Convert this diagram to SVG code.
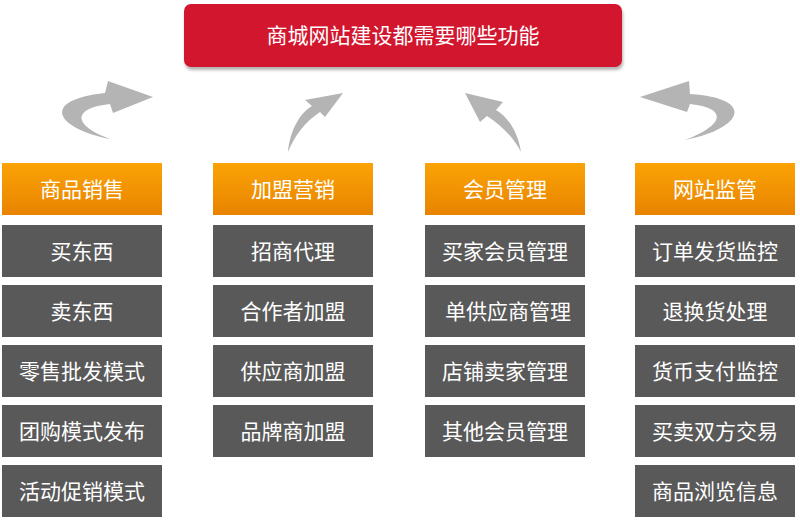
<svg xmlns="http://www.w3.org/2000/svg" width="800" height="523" viewBox="0 0 800 523">
<style>
text{font-family:"Liberation Sans","Noto Sans CJK SC",sans-serif;fill:#fff;text-anchor:middle;font-size:21px}
.h{fill:url(#og)}
.i{fill:#595959}
.a{fill:#b4b4b4}
</style>
<defs>
<linearGradient id="og" x1="0" y1="0" x2="0" y2="1"><stop offset="0" stop-color="#fba306"/><stop offset="1" stop-color="#e88300"/></linearGradient>
<filter id="sh" x="-5%" y="-10%" width="110%" height="130%"><feDropShadow dx="1" dy="3" stdDeviation="1.5" flood-color="#000" flood-opacity="0.3"/></filter>
</defs>
<rect width="800" height="523" fill="#fff"/>
<g id="title"><rect x="184" y="4" width="438" height="63" rx="7" fill="#d2162f" filter="url(#sh)"/><text x="403" y="43">商城网站建设都需要哪些功能</text></g>
<g id="connectors">
<path class="a" d="M110,139 C55,128 40,100 105,93 L108,81 L153,97 L113,113 L110,104 C72,108 72,125 110,139 Z"/>
<path class="a" d="M288,152 C290,130 300,113 312,106 L305,100 L343,93 L325,117 L320,112 C305,122 295,135 288,152 Z"/>
<path class="a" d="M521,152 C518,132 508,117 496,110 L503,102 L465,93 L480,122 L487,116 C502,126 514,138 521,152 Z"/>
<path class="a" d="M685,140 C745,128 755,98 690,94 L689,81 L640,97 L687,112 L690,104 C728,108 725,125 685,140 Z"/>
</g>
<g id="col1">
<rect class="h" x="2" y="163" width="160" height="52"/><text x="82" y="197">商品销售</text>
<rect class="i" x="2" y="225" width="160" height="52"/><text x="82" y="259">买东西</text>
<rect class="i" x="2" y="285" width="160" height="52"/><text x="82" y="319">卖东西</text>
<rect class="i" x="2" y="345" width="160" height="52"/><text x="82" y="379">零售批发模式</text>
<rect class="i" x="2" y="405" width="160" height="52"/><text x="82" y="439">团购模式发布</text>
<rect class="i" x="2" y="465" width="160" height="52"/><text x="82" y="499">活动促销模式</text>
</g>
<g id="col2">
<rect class="h" x="213" y="163" width="160" height="52"/><text x="293" y="197">加盟营销</text>
<rect class="i" x="213" y="225" width="160" height="52"/><text x="293" y="259">招商代理</text>
<rect class="i" x="213" y="285" width="160" height="52"/><text x="293" y="319">合作者加盟</text>
<rect class="i" x="213" y="345" width="160" height="52"/><text x="293" y="379">供应商加盟</text>
<rect class="i" x="213" y="405" width="160" height="52"/><text x="293" y="439">品牌商加盟</text>
</g>
<g id="col3">
<rect class="h" x="425" y="163" width="160" height="52"/><text x="505" y="197">会员管理</text>
<rect class="i" x="425" y="225" width="160" height="52"/><text x="505" y="259">买家会员管理</text>
<rect class="i" x="425" y="285" width="160" height="52"/><text x="508" y="319">单供应商管理</text>
<rect class="i" x="425" y="345" width="160" height="52"/><text x="505" y="379">店铺卖家管理</text>
<rect class="i" x="425" y="405" width="160" height="52"/><text x="505" y="439">其他会员管理</text>
</g>
<g id="col4">
<rect class="h" x="635" y="163" width="160" height="52"/><text x="715" y="197">网站监管</text>
<rect class="i" x="635" y="225" width="160" height="52"/><text x="715" y="259">订单发货监控</text>
<rect class="i" x="635" y="285" width="160" height="52"/><text x="715" y="319">退换货处理</text>
<rect class="i" x="635" y="345" width="160" height="52"/><text x="715" y="379">货币支付监控</text>
<rect class="i" x="635" y="405" width="160" height="52"/><text x="715" y="439">买卖双方交易</text>
<rect class="i" x="635" y="465" width="160" height="52"/><text x="715" y="499">商品浏览信息</text>
</g>
</svg>
